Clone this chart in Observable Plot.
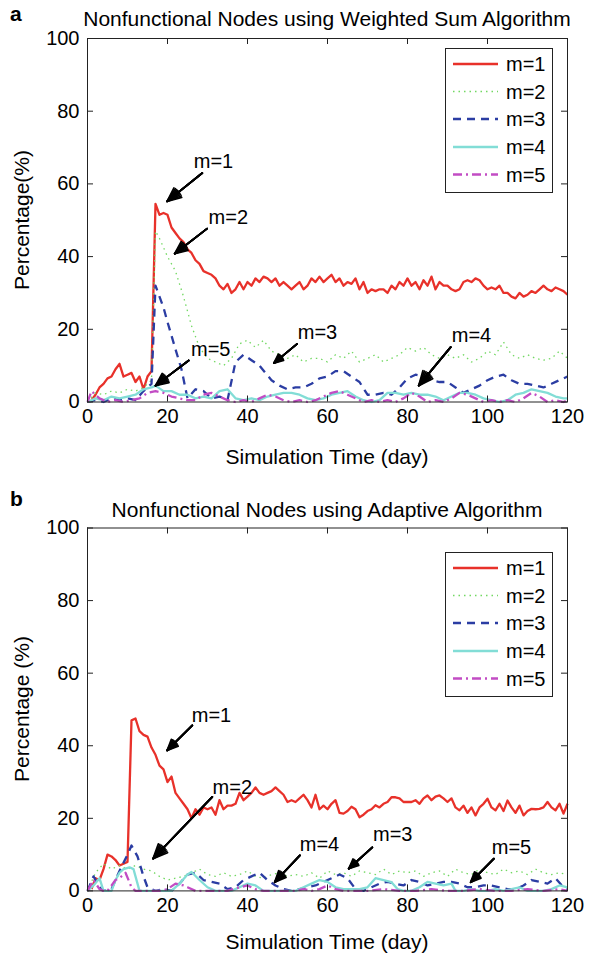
<!DOCTYPE html>
<html><head><meta charset="utf-8">
<script src="https://cdn.jsdelivr.net/npm/d3@7"></script>
<script src="https://cdn.jsdelivr.net/npm/@observablehq/plot@0.6"></script>
<style>
body{margin:0;background:#fff;}
#wrap{position:relative;width:591px;height:957px;font-family:"Liberation Sans",Arial,Helvetica,sans-serif;color:#000;overflow:hidden;background:#fff}
.t{position:absolute;white-space:nowrap;line-height:1;font-size:21px}
</style></head><body><div id="wrap"></div>
<script>
const xTicks = [0,20,40,60,80,100,120];
const yTicks = [0,20,40,60,80,100];
const seriesNames = ["m=1","m=2","m=3","m=4","m=5"];

// Panel a — m=1 daily values, days 1..120
const topM1 = [0.5,2,4,5,6.5,7,9,10.5,7,7.5,8,5.5,7,3.5,7,8.5,54.5,51.5,52,51.5,
48,46.5,45,44,42,41,39,38,36,35.5,35,34,32,31,32.5,30,31,33,31,33,
32,34,33,34.5,34,33,34,32,33,32,31,32,33,31,32,34,33,34.5,33,34,
35,33,34,32,33,32.5,34,31,33,30,31,30.5,31,31,30,32,31,33,32,34,
32,33,31,33.5,32,34.5,31,33,32,32,31,30.5,31,33,33.5,33,34,33.5,32,31,
31.5,31,32,30,30,29,28.5,30,29,29.5,30.5,30,31,32,31,30.5,31.5,31,30.5,29.5];
const topM2 = [[0,0],[2,2.5],[4,2],[6,3],[8,2.5],[10,3.5],[12,3],[14,4],[16,6],[17,47],[18,45],[20,40],[22,36],[24,29],[26,21],[28,15],[30,12],[32,11],[34,10],[36,12],[38,16],[40,17],[42,15],[44,17],[46,14],[48,13],[50,12],[52,13],[54,11],[56,12],[58,12],[60,11],[62,13],[64,12],[66,14],[68,11],[70,12],[72,13],[74,11],[76,12],[78,13],[80,15],[82,14],[84,15],[86,13],[88,12],[90,13],[92,12],[94,13],[96,11],[98,12],[100,14],[102,13],[104,16.5],[106,13],[108,12],[110,13],[112,12],[114,11.5],[116,12],[118,14],[120,12]];
const topM3 = [[0,0],[2,0.5],[4,0],[6,1],[8,0.5],[10,1],[12,0.5],[14,3],[16,5],[17,32],[19,26],[20,22],[22,14.5],[23.5,9],[25,1],[27,3.5],[29,3],[31,1],[33,1.5],[35,0.5],[37,11],[39,13],[41,11.5],[43,10],[46,6],[48,4.5],[50,3.5],[52,4],[54,4],[56,5],[58,6.5],[60,7],[62,8.5],[64,8.5],[66,7],[68,5.5],[70,2],[72,2],[74,2.5],[76,2],[78,4],[80,6.5],[82,7.5],[84,7],[86,6],[88,5.5],[90,5.5],[92,4],[94,2.5],[96,3.5],[98,4.5],[100,6],[102,7],[104,7.5],[106,6],[108,5],[110,5],[112,4.5],[114,4],[116,5],[118,6],[120,7]];
const topM4 = [[0,0],[2,1],[4,0.5],[6,1.5],[8,1],[10,1.5],[12,2],[14,3.5],[16,4],[17,4.5],[19,3],[21,3],[23,2],[25,2],[27,1],[29,1.5],[31,1],[33,3],[35,3.5],[37,1],[39,0.5],[41,1],[43,0.5],[45,1.5],[47,2],[49,2.5],[51,2.5],[53,2],[55,1],[57,0.5],[59,1],[61,2],[63,2.5],[65,3],[67,1.5],[69,0.5],[71,0],[73,0.5],[75,2.5],[77,2.5],[79,2],[81,2.5],[83,2],[85,2],[87,1.5],[89,0.5],[91,1.5],[93,2.5],[95,2.5],[97,2],[99,1],[101,0.5],[103,0],[105,0.5],[107,2],[109,2.5],[111,3.5],[113,3],[115,2.5],[117,1.5],[119,1],[120,1]];
const topM5 = [[0,0],[1,3],[3,1],[5,0],[7,0.5],[9,0],[11,0.5],[13,1],[15,2.5],[17,3],[19,2.5],[21,1.5],[23,1],[25,0.5],[27,0.5],[29,2],[31,2.5],[33,1.5],[35,0.5],[37,0],[39,0.5],[41,0],[43,1],[45,2],[47,1.5],[49,0.5],[51,0],[53,0.5],[55,0],[57,0.5],[59,1.5],[61,2.5],[63,3],[65,2],[67,1],[69,0],[71,0.5],[73,0],[75,0.5],[77,0],[79,1],[81,2.5],[83,1.5],[85,0],[87,0.5],[89,0],[91,1],[93,2.5],[95,2],[97,1],[99,0],[101,0.5],[103,0],[105,0.5],[107,0],[109,1],[111,2.5],[113,1.5],[115,0],[117,0.5],[119,0],[120,0.5]];

// Panel b — m=1 daily values, days 1..120
const botM1 = [0.5,3.5,3,6,10,9.5,8.5,7,7.5,8,47,47.5,44,43,42.5,39.5,37.5,34.5,33.5,30,
31.5,27,25.5,24,22.5,20,22.5,21,23,22.5,23,21,25,22.5,23.5,23.5,24,27,25,26,
27,28.5,27,26.5,27,27.5,28.5,27.5,26.5,24.5,25,24.5,25.5,26.5,25,23,26.5,22.5,23.5,22.5,
24,25,21.5,21.3,22,23.2,22.5,20.3,21,22,22.5,23.6,23,24,24.5,25.8,25.8,25.5,24.5,24.5,
24.5,25,24,25.5,26.3,25,26,26.3,25.5,24.5,25.5,23,22.2,23.5,21.5,23,20.8,23,24,25.4,
23,22.2,24,22,24.9,23,21.5,23.5,20.8,22,22.6,22.5,22.6,23,24.5,23,22.2,24,21.3,24];
const botM2 = [[0,0],[2,5],[4,7.5],[6,6],[8,7],[10,6],[12,7],[14,6],[16,5.5],[18,4],[20,3],[22,3.5],[24,4],[26,5],[28,6],[30,4.5],[32,4],[34,5],[36,4],[38,4.5],[40,5.5],[42,4],[44,3.5],[46,4.5],[48,5],[50,4],[52,4.5],[54,4],[56,5],[58,3.5],[60,5.5],[62,4.5],[64,5],[66,4],[68,5.5],[70,5],[72,4.5],[74,6],[76,4.5],[78,5.5],[80,5],[82,5.5],[84,4],[86,5],[88,5.5],[90,4],[92,6],[94,5],[96,4.5],[98,6],[100,5],[102,4.5],[104,6],[106,5],[108,5.5],[110,4.5],[112,6],[114,5],[116,4.5],[118,5],[120,4.5]];
const botM3 = [[0,0],[1.5,4],[3,1],[4,0],[6,0.5],[8,5.5],[10,10],[11,12.5],[12.5,9.5],[14,4],[15,1],[17,0],[19,0.5],[21,0],[23,2],[25,4.5],[27,5],[29,3],[31,2.5],[33,2],[35,0.5],[37,1],[39,3],[41,4],[43,5],[45,3],[47,1.5],[49,0.5],[51,0],[53,0.5],[55,1],[57,1.5],[59,2.5],[61,3.5],[63,4.5],[65,3.5],[67,0.5],[69,0],[71,1],[73,2],[75,2.5],[77,2],[79,1.5],[81,3],[83,2.5],[85,1.5],[87,2],[89,2.5],[91,2.5],[93,2],[95,1],[97,1],[99,1.5],[101,1.5],[103,1],[105,0.5],[107,0.5],[109,1.5],[111,3],[113,2.5],[115,2],[117,3.5],[119,1],[120,0.5]];
const botM4 = [[0,0],[1.5,1.5],[3,3.5],[4,0],[6,0],[7,3],[8,5],[9,6],[10.5,6.5],[11.5,6],[13,0],[15,0],[17,0],[19,0],[21,0],[23,2],[25,4.5],[26,5.2],[28,3],[30,1],[32,0],[34,0],[36,0],[38,1],[40,2],[42,1.5],[44,0],[46,0],[48,0],[50,0],[52,0],[54,1],[56,2],[58,3],[60,2.5],[62,1],[64,0.5],[66,0.5],[68,0.5],[70,1],[72,3.5],[74,3],[76,2.4],[77.5,0.5],[79,0],[81,0],[83,1],[85,2.5],[87,2],[89,1.5],[91,2],[92,0],[94,0],[96,0.5],[98,0],[100,0],[102,0.5],[104,0],[106,0.5],[108,1],[110,0],[112,0],[114,0],[116,0.5],[118,1.5],[120,1]];
const botM5 = [[0,0],[1.5,3],[3,0.5],[4,0],[5,0],[7,3],[8,3.5],[9.5,5],[11,1],[12,0],[14,0],[16,0],[18,0],[20,0.5],[22,2],[24,1.5],[25,1],[27,0],[29,0],[31,0],[33,0],[35,0],[38,1],[40,1.5],[42,0.5],[44,0],[46,0],[48,0],[50,0],[52,0],[54,0.5],[56,0],[58,0.5],[60,1.5],[62,0.5],[64,0],[66,0],[70,0],[74,0.5],[78,0],[82,0],[86,0.5],[90,0],[94,0],[98,0.5],[102,0],[106,0],[110,0.5],[114,0],[118,0.5],[120,0]];

// annotation labels (text centre tx,ty; arrow from x1,y1 to tip x2,y2) in data units
const topNotes = [
  {label:"m=1", tx:31.5, ty:66.2, x1:28.7, y1:63.0, x2:19.9, y2:55.2},
  {label:"m=2", tx:35.2, ty:50.8, x1:29.9, y1:47.7, x2:21.8, y2:40.8},
  {label:"m=5", tx:30.8, ty:14.5, x1:25.3, y1:11.4, x2:17.0, y2:4.5},
  {label:"m=3", tx:57.5, ty:19.1, x1:52.4, y1:16.0, x2:46.6, y2:10.7},
  {label:"m=4", tx:96.0, ty:18.3, x1:90.8, y1:15.1, x2:82.8, y2:4.5}
];
const botNotes = [
  {label:"m=1", tx:31.0, ty:48.4, x1:26.2, y1:45.6, x2:19.9, y2:38.7},
  {label:"m=2", tx:36.2, ty:28.6, x1:31.2, y1:25.9, x2:16.4, y2:8.9},
  {label:"m=4", tx:58.0, ty:12.8, x1:53.1, y1:9.8, x2:46.8, y2:2.4},
  {label:"m=3", tx:76.3, ty:15.5, x1:71.2, y1:12.0, x2:65.3, y2:6.1},
  {label:"m=5", tx:106.0, ty:12.0, x1:101.6, y1:8.9, x2:95.8, y2:2.4}
];

const styles = [
  {stroke:"#e8312a", w:2.3, dash:null},
  {stroke:"#72d862", w:1.3, dash:"1.5,4"},
  {stroke:"#2b3da3", w:2.3, dash:"8,6"},
  {stroke:"#82ddd6", w:2.3, dash:null},
  {stroke:"#c24cc4", w:2.3, dash:"9,4,2,4"}
];
const FONT = '"Liberation Sans", Arial, Helvetica, sans-serif';

function toRows(m1, others){
  const s = [m1.map((v,i)=>({x:i+1, y:v}))];
  for (const arr of others) s.push(arr.map(([x,y])=>({x,y})));
  return s;
}

function panel({top, height, mt, mb, series, notes}){
  const ml = 87, mr = 24, W = 591;
  const ih = height - mt - mb, iw = W - ml - mr;
  const marks = [];
  series.forEach((rows,i)=>{
    const st = styles[i];
    marks.push(Plot.line(rows, {x:"x", y:"y", stroke:st.stroke, strokeWidth:st.w,
      strokeDasharray: st.dash || undefined, strokeLinejoin:"round", strokeLinecap:"butt"}));
  });
  for (const a of [0,12,24,36,48]) {
    marks.push(Plot.arrow(notes, {x1:"x1", y1:"y1", x2:"x2", y2:"y2", stroke:"#000",
      strokeWidth:1.8, headLength:13, headAngle:a}));
  }
  marks.push(Plot.text(notes, {x:"tx", y:"ty", text:"label", fontSize:20, fill:"#000", textAnchor:"middle", fontFamily:FONT}));
  marks.push(Plot.frame({stroke:"#222", strokeWidth:1}));
  marks.push(Plot.tickX(xTicks, {x:d=>d, insetTop: ih-6, stroke:"#222"}));
  marks.push(Plot.tickX(xTicks, {x:d=>d, insetBottom: ih-6, stroke:"#222"}));
  marks.push(Plot.tickY(yTicks, {y:d=>d, insetLeft: iw-6, stroke:"#222"}));
  marks.push(Plot.tickY(yTicks, {y:d=>d, insetRight: iw-6, stroke:"#222"}));
  marks.push(Plot.axisX({ticks:xTicks, tickSize:0, tickPadding:7, fontSize:20, label:null, fill:"#000", tickFormat:d=>String(d)}));
  marks.push(Plot.axisY({ticks:yTicks, tickSize:0, tickPadding:8, fontSize:20, label:null, fill:"#000", tickFormat:d=>String(d)}));
  const svg = Plot.plot({
    width: W, height, marginTop: mt, marginBottom: mb, marginLeft: ml, marginRight: mr,
    x: {domain:[0,120], label:null}, y: {domain:[0,100], label:null},
    style: {fontFamily: FONT, fontSize:"20px", background:"transparent", color:"#000", overflow:"visible"},
    marks
  });
  svg.style.position = "absolute";
  svg.style.left = "0px";
  svg.style.top = top + "px";
  return svg;
}

function legend(left, top){
  const svg = d3.create("svg").attr("width", 110).attr("height", 147)
    .style("position","absolute").style("left", left+"px").style("top", top+"px");
  svg.append("rect").attr("x",0.5).attr("y",0.5).attr("width",107).attr("height",144)
    .attr("fill","#fff").attr("stroke","#222").attr("stroke-width",1);
  const rowY = [16, 43.5, 71, 99, 126.5];
  seriesNames.forEach((n,i)=>{
    const st = styles[i];
    svg.append("line").attr("x1",8).attr("x2",53).attr("y1",rowY[i]).attr("y2",rowY[i])
      .attr("stroke",st.stroke).attr("stroke-width",st.w).attr("stroke-dasharray", st.dash);
    svg.append("text").attr("x",61).attr("y",rowY[i]).attr("dy","0.36em")
      .attr("font-size",20).attr("font-family",FONT).text(n);
  });
  return svg.node();
}

const wrap = document.getElementById("wrap");
function addText(txt, cx, cy, opts={}){
  const d = document.createElement("div");
  d.className = "t";
  d.textContent = txt;
  if (opts.bold) d.style.fontWeight = "bold";
  if (opts.size) d.style.fontSize = opts.size + "px";
  d.style.left = cx + "px";
  d.style.top = cy + "px";
  d.style.transform = (opts.left ? "translate(0,-50%)" : "translate(-50%,-50%)") + (opts.rot ? " rotate(-90deg)" : "");
  wrap.appendChild(d);
}

wrap.appendChild(panel({top:0, height:480, mt:38, mb:78.5,
  series: toRows(topM1, [topM2, topM3, topM4, topM5]), notes: topNotes}));
wrap.appendChild(panel({top:480, height:477, mt:47.5, mb:66.6,
  series: toRows(botM1, [botM2, botM3, botM4, botM5]), notes: botNotes}));
wrap.appendChild(legend(445, 48));
wrap.appendChild(legend(445, 552));

addText("a", 10, 13, {bold:true, left:true, size:21});
addText("Nonfunctional Nodes using Weighted Sum Algorithm", 327, 18);
addText("Percentage(%)", 21, 220, {rot:true});
addText("Simulation Time (day)", 327, 456);
addText("b", 10, 498, {bold:true, left:true, size:21});
addText("Nonfunctional Nodes using Adaptive Algorithm", 327, 509);
addText("Percentage (%)", 21, 709, {rot:true});
addText("Simulation Time (day)", 327, 941);
</script></body></html>
